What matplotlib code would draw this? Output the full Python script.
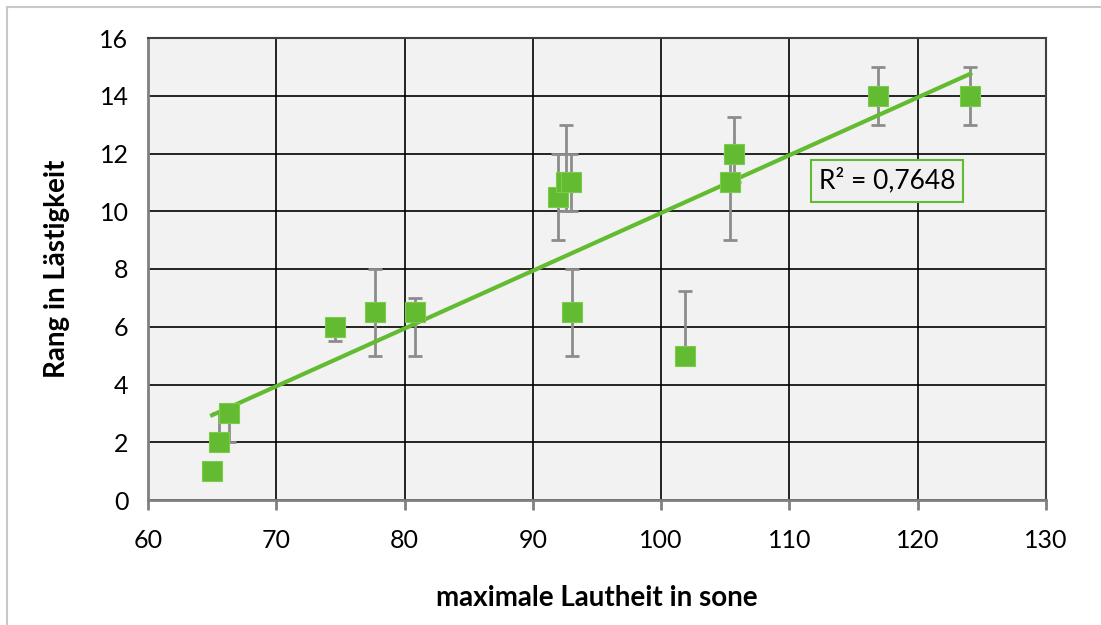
import numpy as np
import matplotlib.pyplot as plt
from matplotlib.patches import Rectangle

plt.rcParams['font.family'] = ['Lato', 'DejaVu Sans']

# data
lautheit = [65.0, 65.5, 66.3, 74.6, 77.7, 80.8, 92.0, 92.6, 93.0, 93.05, 101.9, 105.4, 105.7, 116.9, 124.1]
rang = [1, 2, 3, 6, 6.5, 6.5, 10.5, 11, 11, 6.5, 5, 11, 12, 14, 14]
err_low = [0, 0, 1, 0.5, 1.5, 1.5, 1.5, 1, 1, 1.5, 0, 2, 1, 1, 1]
err_high = [0, 1, 0, 0, 1.5, 0.5, 1.5, 2, 1, 1.5, 2.25, 1, 1.25, 1, 1]
r2_text = 'R² = 0,7648'

green = '#63BB32'

fig = plt.figure(figsize=(11.01, 6.25), dpi=100)
fig.patch.set_facecolor('white')
fig.add_artist(Rectangle((0.0065, -0.01), 1.2, 1.0 - 0.0115 + 0.01, transform=fig.transFigure,
                         fill=False, edgecolor='#c8c8c8', lw=1.5))
ax = fig.add_axes([0.1344, 0.2, 0.8156, 0.7392])
ax.set_facecolor('#f2f2f2')

ax.errorbar(lautheit, rang, yerr=[err_low, err_high], fmt='none', ecolor='#8c8c8c',
            elinewidth=2, capsize=5, capthick=2, zorder=3)

# linear trend line
k, d = np.polyfit(lautheit, rang, 1)
xs = np.array([min(lautheit), max(lautheit)])
ax.plot(xs, k * xs + d, color=green, lw=3, zorder=4)

ax.plot(lautheit, rang, 's', color=green, markersize=14, markeredgecolor='#7ccc4c',
        markeredgewidth=0.8, zorder=5)

ax.set_xlim(60, 130)
ax.set_ylim(0, 16)
ax.set_xticks(np.arange(60, 131, 10))
ax.set_yticks(np.arange(0, 17, 2))
ax.grid(True, color='black', lw=1.2)
ax.set_axisbelow(True)
for s in ['top', 'right']:
    ax.spines[s].set_color('#404040')
    ax.spines[s].set_linewidth(1.5)
for s in ['left', 'bottom']:
    ax.spines[s].set_color('#808080')
    ax.spines[s].set_linewidth(2)
ax.tick_params(axis='x', length=7, width=2, color='#808080', labelsize=18, pad=14)
ax.tick_params(axis='y', length=0, labelsize=18, pad=14)

ax.set_xlabel('maximale Lautheit in sone', fontsize=20, fontweight='bold', labelpad=24)
ax.set_ylabel('Rang in Lästigkeit', fontsize=20, fontweight='bold', labelpad=21)

ax.text(112.3, 11.05, r2_text, fontsize=19, ha='left', va='center',
        bbox=dict(boxstyle='square,pad=0.3', facecolor='#f0f0f0', edgecolor=green, lw=1.5))

fig.savefig('out.png', dpi=100)
